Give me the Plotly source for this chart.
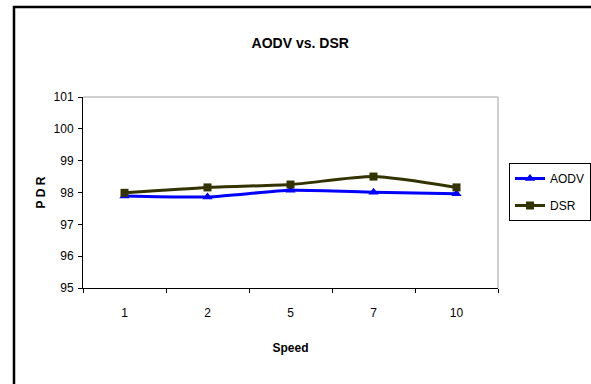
import plotly.graph_objects as go

speeds = ["1", "2", "5", "7", "10"]
aodv = [97.89, 97.86, 98.07, 98.01, 97.96]
dsr = [97.99, 98.16, 98.25, 98.50, 98.16]
y_ticks = [95, 96, 97, 98, 99, 100, 101]

FONT = "Liberation Sans, Arial, sans-serif"

fig = go.Figure()
fig.add_trace(go.Scatter(
    x=speeds, y=aodv, name="AODV", mode="lines+markers", legendgroup="a",
    line=dict(color="#0000FF", width=3, shape="spline", smoothing=0.6),
    marker=dict(symbol="triangle-up", size=9, color="#0000FF"),
))
fig.add_trace(go.Scatter(
    x=speeds, y=dsr, name="DSR", mode="lines+markers", legendgroup="b",
    line=dict(color="#333300", width=3, shape="spline", smoothing=0.6),
    marker=dict(symbol="square", size=8, color="#333300"),
))

L, R, T, B = 83, 93, 97, 96
W, H = 591, 384
pw, ph = W - L - R, H - T - B

def px(x):
    return (x - L) / pw

def py(y):
    return (H - B - y) / ph

fig.update_layout(
    width=W, height=H,
    margin=dict(l=L, r=R, t=T, b=B, autoexpand=False),
    paper_bgcolor="white", plot_bgcolor="white",
    font=dict(family=FONT, size=12, color="#000000"),
    title=dict(text="<b>AODV vs. DSR</b>", x=0.508, xanchor="center",
               y=1 - 43 / H, yanchor="middle", yref="container",
               font=dict(size=14, color="#000000")),
    showlegend=True,
    legend=dict(x=px(509), y=py(163), xanchor="left", yanchor="top",
                bordercolor="#000000", borderwidth=1, bgcolor="white",
                font=dict(size=12, color="#000000"), itemwidth=30,
                tracegroupgap=8),
    xaxis=dict(
        type="category", categoryorder="array", categoryarray=speeds,
        range=[-0.5, 4.5],
        showgrid=False, showline=True, linecolor="#000000", linewidth=1,
        ticks="outside", ticklen=4, tickcolor="#000000", tickson="boundaries",
        ticklabelstandoff=14, tickfont=dict(color="#000000"),
        title=dict(text="<b>Speed</b>", font=dict(size=12, color="#000000"), standoff=24),
        zeroline=False,
    ),
    yaxis=dict(
        range=[95, 101], tickvals=y_ticks, ticktext=[str(v) for v in y_ticks],
        showgrid=False, showline=True, linecolor="#000000", linewidth=1,
        ticks="outside", ticklen=4, tickcolor="#000000", tickfont=dict(color="#000000"),
        ticklabelstandoff=2,
        title=dict(text="<b>P D R</b>", font=dict(size=12, color="#000000"), standoff=5),
        zeroline=False,
    ),
    shapes=[
        dict(type="line", xref="x domain", yref="y domain", x0=0, x1=1, y0=1, y1=1,
             line=dict(color="#BFBFBF", width=1.5)),
        dict(type="line", xref="x domain", yref="y domain", x0=1, x1=1, y0=0, y1=1,
             line=dict(color="#BFBFBF", width=1.5)),
        dict(type="rect", xref="paper", yref="paper", x0=px(14), x1=px(700),
             y0=py(7), y1=py(500), line=dict(color="#000000", width=2.5),
             fillcolor="rgba(0,0,0,0)", layer="below"),
    ],
)

fig.write_html("out.html", config=dict(displayModeBar=False))
